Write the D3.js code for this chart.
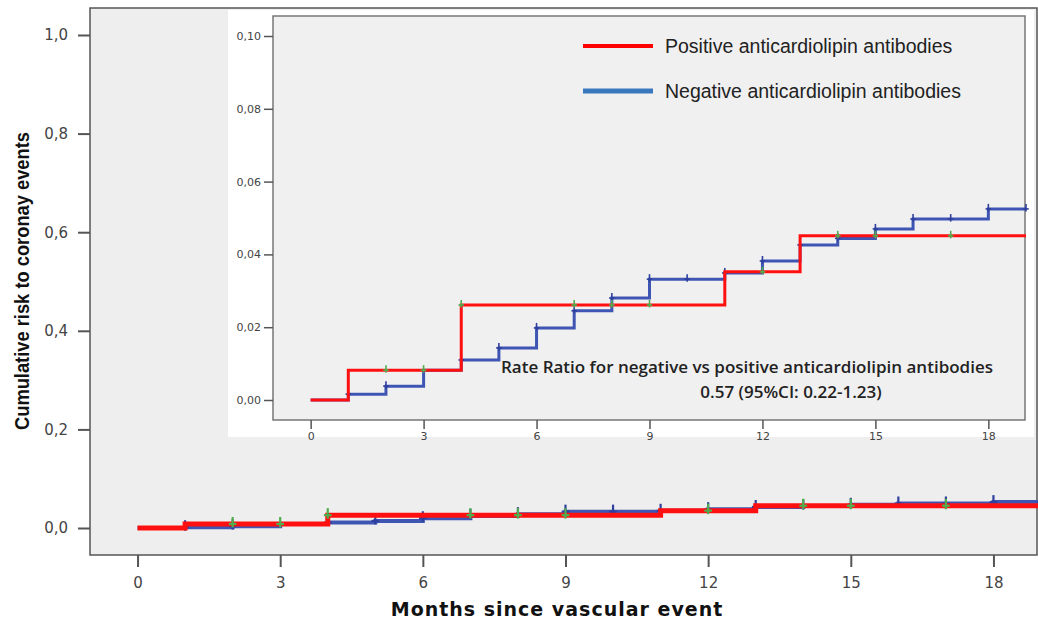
<!DOCTYPE html>
<html>
<head>
<meta charset="utf-8">
<script src="https://cdn.jsdelivr.net/npm/d3@7"></script>
<style>
  body { margin: 0; background: #fff; }
  svg { display: block; }
  .tick-label { fill: #444; font-family: "DejaVu Sans", Verdana, sans-serif; }
  .legend-text { fill: #222; font-family: "Liberation Sans", Arial, sans-serif; font-size: 19.5px; }
  .note { fill: #222; font-family: "Open Sans", sans-serif; font-weight: 600; font-size: 17px; }
</style>
</head>
<body>
<svg id="chart" width="1038" height="621"></svg>
<script>
// Kaplan-Meier step data (months, cumulative risk)
const posTimes = [0, 1, 4, 11, 13, 19];
const posRisk = [0, 0.0082, 0.0261, 0.0352, 0.0451, 0.0451];
const posCensor = [2, 3, 4, 7, 8, 9, 12, 14, 15, 17];

const negTimes = [0, 1, 2, 3, 4, 5, 6, 7, 8, 9, 11, 12, 13, 14, 15, 16, 18, 19];
const negRisk = [0, 0.0016, 0.0038, 0.0082, 0.011, 0.0143, 0.0198, 0.0245, 0.028, 0.0332, 0.0349, 0.0382, 0.0426, 0.0444, 0.047, 0.0497, 0.0525, 0.0525];
const negCensor = [1, 2, 4, 5, 6, 7, 8, 9, 10, 11, 12, 13, 14, 15, 16, 17, 18, 19];

const xTicks = [0, 3, 6, 9, 12, 15, 18];
const mainYTicks = [0, 0.2, 0.4, 0.6, 0.8, 1.0];
const insetYTicks = [0, 0.02, 0.04, 0.06, 0.08, 0.10];

const legendLabels = ['Positive anticardiolipin antibodies', 'Negative anticardiolipin antibodies'];
const noteLines = ['Rate Ratio for negative vs positive anticardiolipin antibodies', '0.57 (95%CI: 0.22-1.23)'];

const RED = '#ff1010', BLUE = '#3f55b4', GREEN = '#4fae4f', CBLUE = '#2e3f9e';

const svg = d3.select('#chart');

const toPts = (t, r) => t.map((d, i) => ({ t: d, r: r[i] }));
const pos = toPts(posTimes, posRisk);
const neg = toPts(negTimes, negRisk);
// value of step curve at time m
const stepAt = (pts, m) => {
  let v = pts[0].r;
  pts.forEach(p => { if (p.t <= m) v = p.r; });
  return v;
};
const comma = f => d => d3.format(f)(d).replace('.', ',');

function drawKM(g, cfg) {
  const x = d3.scaleLinear().domain([-1, 19]).range([cfg.left, cfg.right]);
  const y = d3.scaleLinear().domain([0, cfg.yMax]).range([cfg.y0, cfg.yTop]);

  g.append('rect')
      .attr('x', cfg.left).attr('y', cfg.top)
      .attr('width', cfg.frameRight - cfg.left).attr('height', cfg.bottom - cfg.top)
      .attr('fill', cfg.bg).attr('stroke', cfg.border).attr('stroke-width', 1.5);

  // axes
  const yAxis = d3.axisLeft(y).tickValues(cfg.yTicks).tickSize(cfg.tick).tickPadding(cfg.pad).tickFormat(comma(cfg.fmt));
  const yG = g.append('g').attr('transform', `translate(${cfg.left},0)`).call(yAxis);
  const xAxis = d3.axisBottom(x).tickValues(xTicks).tickSize(cfg.tick).tickPadding(cfg.pad);
  const xG = g.append('g').attr('transform', `translate(0,${cfg.bottom})`).call(xAxis);
  [yG, xG].forEach(a => {
    a.select('.domain').remove();
    a.selectAll('.tick line').attr('stroke', '#555').attr('stroke-width', cfg.tickW);
    a.selectAll('.tick text').attr('class', 'tick-label').attr('font-size', cfg.font).attr('font-family', null).attr('fill', null);
  });

  const line = d3.line().x(d => x(d.t)).y(d => y(d.r)).curve(d3.curveStepAfter);

  const plus = (data, pts, color, size, w) => {
    const s = g.append('g').selectAll('g').data(data).join('g')
        .attr('transform', d => `translate(${x(d)},${y(stepAt(pts, d))})`);
    s.append('line').attr('x1', 0).attr('x2', 0).attr('y1', -size).attr('y2', size * 0.5)
        .attr('stroke', color).attr('stroke-width', w);
    s.append('line').attr('x1', -size * 0.55).attr('x2', size * 0.55).attr('y1', 0).attr('y2', 0)
        .attr('stroke', color).attr('stroke-width', w);
  };

  g.append('path').datum(neg).attr('d', line)
      .attr('fill', 'none').attr('stroke', BLUE).attr('stroke-width', cfg.blueW);
  plus(negCensor, neg, CBLUE, cfg.mark, cfg.markW);
  g.append('path').datum(pos).attr('d', line)
      .attr('fill', 'none').attr('stroke', RED).attr('stroke-width', cfg.redW);
  plus(posCensor, pos, GREEN, cfg.mark, cfg.markW);
  return { x, y };
}

// main chart
drawKM(svg.append('g'), {
  left: 90, right: 1041, frameRight: 1037, top: 8, bottom: 555,
  y0: 528, yTop: 35, yMax: 1, yTicks: mainYTicks, fmt: '.1f',
  bg: '#eeeeee', border: '#555', tick: 12, tickW: 2, pad: 10, font: 15,
  redW: 5, blueW: 4, mark: 7, markW: 2.2
});

// narrow bold title, squeezed to the reference length
svg.append('text')
    .attr('transform', 'translate(29,281) rotate(-90)')
    .attr('text-anchor', 'middle')
    .attr('font-family', '"Liberation Sans", Arial, sans-serif')
    .attr('font-weight', 'bold').attr('font-size', 21).attr('fill', '#111')
    .attr('textLength', 298).attr('lengthAdjust', 'spacingAndGlyphs')
    .text('Cumulative risk to coronay events');

svg.append('text')
    .attr('x', 557).attr('y', 616)
    .attr('text-anchor', 'middle')
    .attr('font-family', '"DejaVu Sans", Verdana, sans-serif')
    .attr('font-weight', 'bold').attr('font-size', 19).attr('letter-spacing', 1).attr('fill', '#111')
    .text('Months since vascular event');

// inset
const inset = svg.append('g');
inset.append('rect').attr('x', 228).attr('y', 10).attr('width', 806).attr('height', 427).attr('fill', '#fff');
drawKM(inset, {
  left: 273, right: 1026, frameRight: 1025, top: 16, bottom: 420,
  y0: 400, yTop: 36, yMax: 0.10, yTicks: insetYTicks, fmt: '.2f',
  bg: '#f0f0f0', border: '#777', tick: 9, tickW: 1.5, pad: 3, font: 11,
  redW: 3, blueW: 3, mark: 5, markW: 1.6
});

// legend
const legend = inset.append('g').selectAll('g').data(legendLabels).join('g')
    .attr('transform', (d, i) => `translate(583,${46 + i * 45})`);
legend.append('line').attr('x1', 0).attr('x2', 70)
    .attr('stroke', (d, i) => i === 0 ? '#ff0000' : '#3a78be').attr('stroke-width', (d, i) => i === 0 ? 4 : 5);
legend.append('text').attr('class', 'legend-text').attr('x', 82).attr('dy', '0.35em').text(d => d);

// rate ratio note
inset.append('text').attr('class', 'note').attr('x', 747).attr('y', 373).attr('text-anchor', 'middle').text(noteLines[0]);
inset.append('text').attr('class', 'note').attr('x', 791).attr('y', 398).attr('text-anchor', 'middle').text(noteLines[1]);
</script>
</body>
</html>
